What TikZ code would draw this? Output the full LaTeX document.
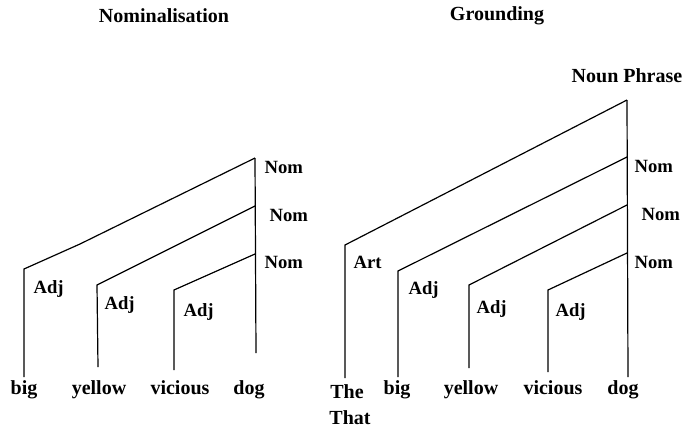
\documentclass[tikz,border=0pt]{standalone}
\usepackage{fontspec}
\setmainfont{Liberation Serif}
\usepackage{tikz}

\begin{document}
\begin{tikzpicture}[x=0.75pt,y=0.75pt,yscale=-1,xscale=1,
  every node/.style={inner sep=0.75pt,font=\bfseries\fontsize{15}{17}\selectfont},
  lbl/.style={anchor=west,font=\bfseries\fontsize{14}{16}\selectfont},
  word/.style={anchor=base},
  every path/.style={line width=0.9pt}]
\useasboundingbox (0,0) rectangle (682,429);

% Text Node
\node (titleNom) at (164,16) {Nominalisation};
% Text Node
\node (titleGr) at (497,16) {Grounding};

%Left tree points
\coordinate (lroot) at (255,158);
\coordinate (lnomB) at (255,206);
\coordinate (lnomC) at (255,254);
\coordinate (lfoot) at (256,353);
\coordinate (ltopA) at (24,269);
\coordinate (lbotA) at (24,377);
\coordinate (ltopB) at (97,285);
\coordinate (lbotB) at (98,367);
\coordinate (ltopC) at (174,290);
\coordinate (lbotC) at (174,370);

%Straight Lines
\draw (lroot) -- (lfoot);
\draw (lbotA) -- (ltopA) -- (80,244) -- (lroot);
\draw (lbotB) -- (ltopB) -- (lnomB);
\draw (lbotC) -- (ltopC) -- (lnomC);

% Text Node
\node[lbl] (lNomA) at (263,167) {Nom};
\node[lbl] (lNomB) at (268,215) {Nom};
\node[lbl] (lNomC) at (263,262) {Nom};
\node[lbl] (lAdjA) at (32,289) {Adj};
\node[lbl] (lAdjB) at (103,305) {Adj};
\node[lbl] (lAdjC) at (182,312) {Adj};

% Text Node
\node[word] (lbig) at (24,394) {big};
\node[word] (lyellow) at (99,394) {yellow};
\node[word] (lvicious) at (180,394) {vicious};
\node[word] (ldog) at (249,394) {dog};

%Right tree points
\coordinate (rroot) at (627,100);
\coordinate (rnomA) at (627,157);
\coordinate (rnomB) at (627,205);
\coordinate (rnomC) at (627,253);
\coordinate (rfoot) at (628,377);
\coordinate (rtopA) at (345,245);
\coordinate (rbotA) at (345,378);
\coordinate (rtopB) at (398,271);
\coordinate (rbotB) at (398,377);
\coordinate (rtopC) at (469,285);
\coordinate (rbotC) at (469,368);
\coordinate (rtopD) at (548,290);
\coordinate (rbotD) at (548,372);

%Straight Lines
\draw (rroot) -- (rfoot);
\draw (rbotA) -- (rtopA) -- (rroot);
\draw (rbotB) -- (rtopB) -- (rnomA);
\draw (rbotC) -- (rtopC) -- (rnomB);
\draw (rbotD) -- (rtopD) -- (rnomC);

% Text Node
\node (rNP) at (627,76) {Noun Phrase};
\node[lbl] (rNomA) at (633,166) {Nom};
\node[lbl] (rNomB) at (640,214) {Nom};
\node[lbl] (rNomC) at (633,262) {Nom};
\node[lbl] (rArt) at (352,262) {Art};
\node[lbl] (rAdjA) at (407,290) {Adj};
\node[lbl] (rAdjB) at (475,309) {Adj};
\node[lbl] (rAdjC) at (554,312) {Adj};

% Text Node
\node[word] (rthe) at (347,398) {The};
\node[word] (rthat) at (350,424) {That};
\node[word] (rbig) at (397,394) {big};
\node[word] (ryellow) at (471,394) {yellow};
\node[word] (rvicious) at (553,394) {vicious};
\node[word] (rdog) at (623,394) {dog};
\end{tikzpicture}
\end{document}
